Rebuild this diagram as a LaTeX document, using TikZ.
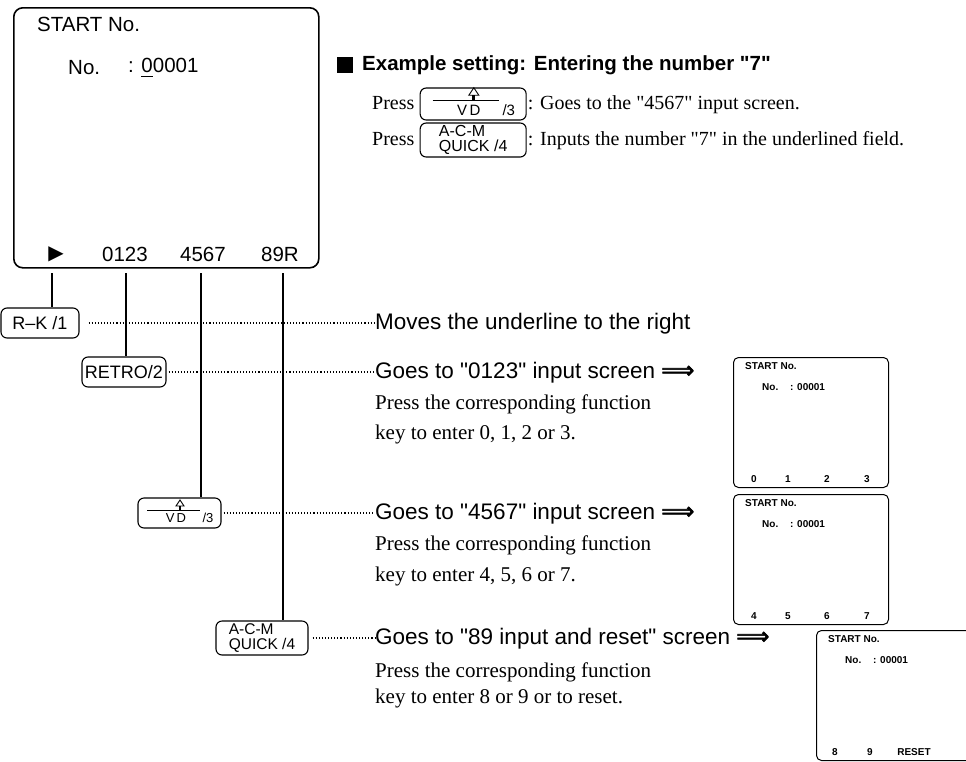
\documentclass[tikz,border=0pt]{standalone}
\usepackage{amsmath}
\usepackage{fontspec}
\setmainfont{Liberation Serif}[Ligatures=TeXOff]
\setsansfont{Liberation Sans}[Ligatures=TeXOff]
\newfontfamily\glyphfont{DejaVu Sans}
\newfontfamily\arrowfont{DejaVu Sans}[FakeBold=3]
\usetikzlibrary{positioning}
\tikzset{
    % Screen styles
    screen/.style={draw, rounded corners=9pt, line width=1.6pt, anchor=north west,
                   minimum width=305pt, minimum height=260pt, inner sep=0pt},
    small screen/.style={draw, rounded corners=5pt, line width=1pt, anchor=north west,
                   minimum width=155pt, minimum height=130pt, inner sep=0pt},
    lcd/.style={font=\sffamily\fontsize{20.5}{20.5}\selectfont, inner sep=0pt},
    lcd small/.style={font=\sffamily\bfseries\fontsize{10}{10}\selectfont, inner sep=0pt},
    % Key styles
    key/.style={draw, rounded corners=6pt, line width=1.1pt, inner sep=0pt,
                font=\sffamily\fontsize{18}{18}\selectfont},
    % Text styles
    desc/.style={anchor=west, inner sep=0pt, text height=16pt, text depth=4pt,
                 font=\sffamily\fontsize{22.5}{22.5}\selectfont},
    note/.style={anchor=west, inner sep=0pt, text height=14pt, text depth=4pt,
                 font=\fontsize{21}{21}\selectfont},
    top note/.style={note, font=\fontsize{20}{20}\selectfont},
    % Line styles
    softkey/.style={line width=1.1pt},
    dotline/.style={line width=1.1pt, dash pattern=on 1.1pt off 2pt},
}
% double arrow pointing to the result screen
\newcommand{\goesto}{{\arrowfont\fontsize{23}{23}\selectfont ⟹}}
% arrow glyph of the VD key: node, scale, font size
\newcommand{\vdglyph}[3]{%
  \begin{scope}[shift={(#1.center)}, scale=#2]
    \draw[line width=1pt] (-32.5,-3) -- (20.5,-3);
    \draw[line width=0.9pt, fill=white] (0.5,-13) -- (4.5,-7) -- (-3.5,-7) -- cycle;
    \fill (-0.8,-7) rectangle (1.8,-3);
    \node[inner sep=0pt, font=\sffamily\fontsize{#3}{#3}\selectfont] (#1-vd) at (-3.5,5) {V\,D};
    \node[inner sep=0pt, font=\sffamily\fontsize{#3}{#3}\selectfont] (#1-no) at (28.5,5) {/3};
  \end{scope}}

\begin{document}
\begin{tikzpicture}[x=1pt, y=-1pt]
    \useasboundingbox (0,0) rectangle (966,761);
    \clip (0,0) rectangle (966,761);

    % Main screen
    \node[screen] (main) at (13,7) {};
    \node[lcd, anchor=west] (title) at (37,24) {START No.};
    \node[lcd, anchor=west] (nolab) at (68,68) {No.};
    \node[lcd, anchor=west] (noval) at (128,68) {: \underline{0}0001};
    \node[lcd, font=\glyphfont\fontsize{20}{20}\selectfont] (sk1) at (56,254) {▶};
    \node[lcd] (sk2) at (125,254) {0123};
    \node[lcd] (sk3) at (203,254) {4567};
    \node[lcd] (sk4) at (280,254) {89R};

    % Function keys
    \node[key, minimum width=78pt, minimum height=30pt] (rk) at (40,323) {R–K /1};
    \node[key, minimum width=84pt, minimum height=30pt] (rt) at (124,372) {RETRO/2};
    \node[key, minimum width=83pt, minimum height=30pt] (vd) at (179.5,513) {};
    \vdglyph{vd}{1}{13}
    \node[key, minimum width=92pt, minimum height=34pt, align=left,
          font=\sffamily\fontsize{15.5}{15}\selectfont] (aq) at (262,638) {A-C-M\\QUICK /4};

    % Soft key connectors
    \foreach \x/\k [count=\i] in {52/rk, 126/rt, 201/vd, 283/aq}
        \draw[softkey] (\x,273) coordinate (c\i) -- (c\i |- \k.north);

    % Descriptions
    \node[desc] (mv) at (375,323) {Moves the underline to the right};
    \node[desc] (g1) at (375,372) {Goes to "0123" input screen \goesto};
    \node[note] (p1) at (375,404) {Press the corresponding function};
    \node[note] (k1) at (375,434) {key to enter 0, 1, 2 or 3.};
    \node[desc] (g2) at (375,513) {Goes to "4567" input screen \goesto};
    \node[note] (p2) at (375,545) {Press the corresponding function};
    \node[note] (k2) at (375,576) {key to enter 4, 5, 6 or 7.};
    \node[desc] (g3) at (375,638) {Goes to "89 input and reset" screen \goesto};
    \node[note] (p3) at (375,672) {Press the corresponding function};
    \node[note] (k3) at (375,698) {key to enter 8 or 9 or to reset.};

    % Dotted leaders
    \draw[dotline, shorten <=9pt] (rk.east) -- (rk.east -| mv.west);
    \draw[dotline, shorten <=2pt] (rt.east) -- (rt.east -| g1.west);
    \draw[dotline, shorten <=2pt] (vd.east) -- (vd.east -| g2.west);
    \draw[dotline, shorten <=4pt] (aq.east) -- (aq.east -| g3.west);

    % Result screens
    \foreach \s/\px/\py in {s1/733/357, s2/733/494, s3/816/630} {
        \node[small screen] (\s) at (\px,\py) {};
        \node[lcd small, anchor=west] (\s-title) at ([shift={(12,9)}]\s.north west) {START No.};
        \node[lcd small, anchor=west] (\s-no) at ([shift={(29,30)}]\s.north west) {No.};
        \node[lcd small, anchor=west] (\s-val) at ([shift={(57,30)}]\s.north west) {: 00001};
    }
    \foreach \s/\a/\b/\c/\d in {s1/0/1/2/3, s2/4/5/6/7} {
        \node[lcd small] (\s-a) at ([shift={(21,122)}]\s.north west) {\a};
        \node[lcd small] (\s-b) at ([shift={(55,122)}]\s.north west) {\b};
        \node[lcd small] (\s-c) at ([shift={(94,122)}]\s.north west) {\c};
        \node[lcd small] (\s-d) at ([shift={(134,122)}]\s.north west) {\d};
    }
    \node[lcd small] (s3-a) at ([shift={(19,122)}]s3.north west) {8};
    \node[lcd small] (s3-b) at ([shift={(54,122)}]s3.north west) {9};
    \node[lcd small] (s3-c) at ([shift={(98,122)}]s3.north west) {RESET};

    % Example setting
    \node[fill, minimum size=16pt, inner sep=0pt] (bullet) at (345,65) {};
    \node[anchor=west, inner sep=0pt, font=\sffamily\bfseries\fontsize{20.5}{20.5}\selectfont]
        (head) at (362,65) {Example setting: Entering the number "7"};
    \node[top note] (pr1) at (372,104) {Press};
    \node[key, minimum width=106pt, minimum height=32pt, right=5pt of pr1] (vdt) {};
    \vdglyph{vdt}{1.25}{15}
    \node[top note, right=1pt of vdt] (tx1) {: Goes to the "4567" input screen.};
    \node[top note] (pr2) at (372,140) {Press};
    \node[key, minimum width=106pt, minimum height=34pt, align=left, right=5pt of pr2,
          font=\sffamily\fontsize{16}{15.5}\selectfont] (aqt) {A-C-M\\QUICK /4};
    \node[top note, right=1pt of aqt] (tx2) {: Inputs the number "7" in the underlined field.};
\end{tikzpicture}
\end{document}
